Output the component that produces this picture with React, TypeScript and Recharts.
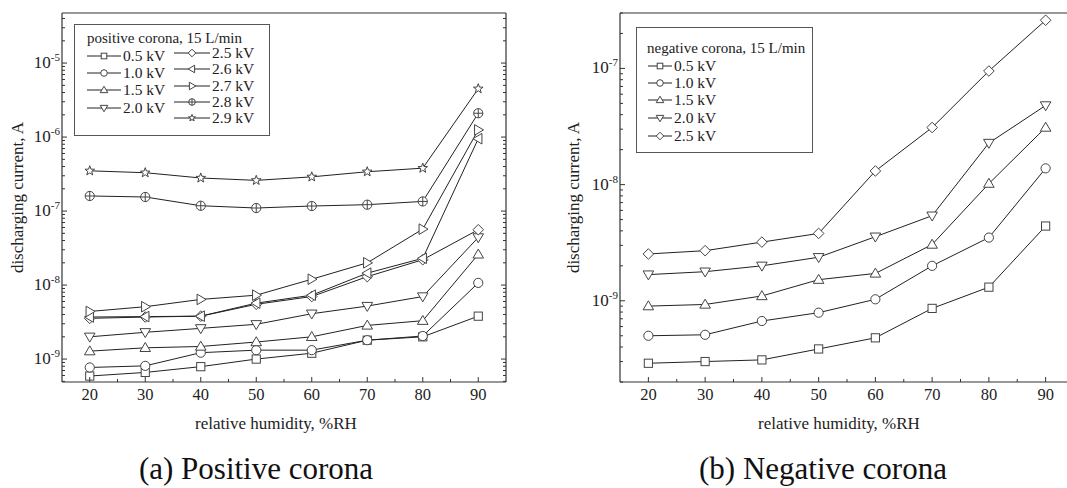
import React from 'react';
import { ComposedChart, Line, XAxis, YAxis, Legend } from 'recharts';

// relative humidity (%RH) where the currents were measured
const RH = [20, 30, 40, 50, 60, 70, 80, 90];

// x axis ticks (labelled every 10, minor every 5)
const X_TICKS = [20, 25, 30, 35, 40, 45, 50, 55, 60, 65, 70, 75, 80, 85, 90];
const X_LABELS = [20, 30, 40, 50, 60, 70, 80, 90];

// (a) positive corona, discharging current in A
const pos05 = [5.9e-10, 6.6e-10, 7.9e-10, 1.0e-9, 1.2e-9, 1.8e-9, 2.0e-9, 3.8e-9];
const pos10 = [7.7e-10, 8.1e-10, 1.22e-9, 1.32e-9, 1.32e-9, 1.8e-9, 2.05e-9, 1.07e-8];
const pos15 = [1.28e-9, 1.42e-9, 1.48e-9, 1.7e-9, 2.0e-9, 2.85e-9, 3.3e-9, 2.6e-8];
const pos20 = [2.0e-9, 2.3e-9, 2.6e-9, 2.95e-9, 4.1e-9, 5.2e-9, 7.0e-9, 4.4e-8];
const pos25 = [3.55e-9, 3.7e-9, 3.8e-9, 5.5e-9, 7.0e-9, 1.3e-8, 2.2e-8, 5.6e-8];
const pos26 = [3.7e-9, 3.75e-9, 3.8e-9, 5.7e-9, 7.3e-9, 1.45e-8, 2.3e-8, 9.5e-7];
const pos27 = [4.4e-9, 5.1e-9, 6.4e-9, 7.3e-9, 1.2e-8, 2.0e-8, 5.7e-8, 1.25e-6];
const pos28 = [1.6e-7, 1.55e-7, 1.18e-7, 1.1e-7, 1.17e-7, 1.22e-7, 1.35e-7, 2.1e-6];
const pos29 = [3.5e-7, 3.3e-7, 2.8e-7, 2.6e-7, 2.9e-7, 3.4e-7, 3.8e-7, 4.5e-6];

// (b) negative corona, discharging current in A
const neg05 = [2.9e-10, 3.0e-10, 3.1e-10, 3.85e-10, 4.8e-10, 8.6e-10, 1.31e-9, 4.4e-9];
const neg10 = [5.0e-10, 5.1e-10, 6.7e-10, 7.9e-10, 1.03e-9, 2.0e-9, 3.5e-9, 1.38e-8];
const neg15 = [9.0e-10, 9.3e-10, 1.1e-9, 1.52e-9, 1.72e-9, 3.05e-9, 1.02e-8, 3.1e-8];
const neg20 = [1.68e-9, 1.78e-9, 2.0e-9, 2.37e-9, 3.56e-9, 5.4e-9, 2.28e-8, 4.8e-8];
const neg25 = [2.53e-9, 2.7e-9, 3.2e-9, 3.8e-9, 1.31e-8, 3.1e-8, 9.5e-8, 2.6e-7];

const POS_DOMAIN = [4.9e-10, 4.75e-5];
const NEG_DOMAIN = [2.0e-10, 3.0e-7];

const POS_SERIES = [
  { key: 'p05', name: '0.5 kV', values: pos05, shape: 'square' },
  { key: 'p10', name: '1.0 kV', values: pos10, shape: 'circle' },
  { key: 'p15', name: '1.5 kV', values: pos15, shape: 'up' },
  { key: 'p20', name: '2.0 kV', values: pos20, shape: 'down' },
  { key: 'p25', name: '2.5 kV', values: pos25, shape: 'diamond' },
  { key: 'p26', name: '2.6 kV', values: pos26, shape: 'left' },
  { key: 'p27', name: '2.7 kV', values: pos27, shape: 'right' },
  { key: 'p28', name: '2.8 kV', values: pos28, shape: 'cross' },
  { key: 'p29', name: '2.9 kV', values: pos29, shape: 'star' },
];

const NEG_SERIES = [
  { key: 'n05', name: '0.5 kV', values: neg05, shape: 'square' },
  { key: 'n10', name: '1.0 kV', values: neg10, shape: 'circle' },
  { key: 'n15', name: '1.5 kV', values: neg15, shape: 'up' },
  { key: 'n20', name: '2.0 kV', values: neg20, shape: 'down' },
  { key: 'n25', name: '2.5 kV', values: neg25, shape: 'diamond' },
];

const buildRows = (series) =>
  RH.map((rh, i) => {
    const row: any = { rh };
    series.forEach((s) => { row[s.key] = s.values[i]; });
    return row;
  });

const posData = buildRows(POS_SERIES);
const negData = buildRows(NEG_SERIES);

// decade + minor ticks inside a log domain
const logTicks = (domain) => {
  const out: number[] = [];
  const lo = Math.floor(Math.log10(domain[0]));
  const hi = Math.ceil(Math.log10(domain[1]));
  for (let d = lo; d <= hi; d++) {
    for (let m = 1; m <= 9; m++) {
      const v = m * Math.pow(10, d);
      if (v >= domain[0] && v <= domain[1]) out.push(v);
    }
  }
  return out;
};

const FONT = "'Liberation Serif', 'Times New Roman', serif";
const AXIS = '#333';
const LINE = '#222';
const MARK = '#444';

function Marker({ shape, cx, cy, r = 4.6 }: any) {
  const st = { fill: '#fff', stroke: MARK, strokeWidth: 1 };
  const k = r * 1.15;
  switch (shape) {
    case 'square':
      return <rect x={cx - r + 0.5} y={cy - r + 0.5} width={2 * r - 1} height={2 * r - 1} {...st} />;
    case 'circle':
      return <circle cx={cx} cy={cy} r={r} {...st} />;
    case 'up':
      return <polygon points={`${cx},${cy - k} ${cx + k},${cy + r * 0.8} ${cx - k},${cy + r * 0.8}`} {...st} />;
    case 'down':
      return <polygon points={`${cx},${cy + k} ${cx + k},${cy - r * 0.8} ${cx - k},${cy - r * 0.8}`} {...st} />;
    case 'left':
      return <polygon points={`${cx - k},${cy} ${cx + r * 0.8},${cy - k} ${cx + r * 0.8},${cy + k}`} {...st} />;
    case 'right':
      return <polygon points={`${cx + k},${cy} ${cx - r * 0.8},${cy - k} ${cx - r * 0.8},${cy + k}`} {...st} />;
    case 'diamond':
      return <polygon points={`${cx},${cy - k} ${cx + k},${cy} ${cx},${cy + k} ${cx - k},${cy}`} {...st} />;
    case 'cross':
      return (
        <g>
          <circle cx={cx} cy={cy} r={r} {...st} />
          <line x1={cx - r} x2={cx + r} y1={cy} y2={cy} stroke={MARK} />
          <line x1={cx} x2={cx} y1={cy - r} y2={cy + r} stroke={MARK} />
        </g>
      );
    case 'star': {
      const pts: string[] = [];
      for (let i = 0; i < 10; i++) {
        const rad = i % 2 === 0 ? r * 1.1 : r * 0.45;
        const a = -Math.PI / 2 + (i * Math.PI) / 5;
        pts.push(`${cx + rad * Math.cos(a)},${cy + rad * Math.sin(a)}`);
      }
      return <polygon points={pts.join(' ')} {...st} />;
    }
    default:
      return null;
  }
}

const dotFor = (shape) => (p: any) => <Marker key={`d${p.index}`} shape={shape} cx={p.cx} cy={p.cy} />;

const isDecade = (v) => Math.abs(Math.log10(v) - Math.round(Math.log10(v))) < 1e-6;

function BottomTick({ x, y, payload }: any) {
  const v = payload.value;
  const major = X_LABELS.includes(v);
  return (
    <g>
      <line x1={x} x2={x} y1={y} y2={y - (major ? 5 : 3)} stroke={AXIS} />
      {major && (
        <text x={x} y={y + 18} textAnchor="middle" fontSize={16.5} fontFamily={FONT} fill="#222">
          {v}
        </text>
      )}
    </g>
  );
}

function TopTick({ x, y, payload }: any) {
  const major = X_LABELS.includes(payload.value);
  return <line x1={x} x2={x} y1={y} y2={y + (major ? 5 : 3)} stroke={AXIS} />;
}

function LeftTick({ x, y, payload }: any) {
  const v = payload.value;
  const major = isDecade(v);
  return (
    <g>
      <line x1={x} x2={x + (major ? 5 : 3)} y1={y} y2={y} stroke={AXIS} />
      {major && (
        <text x={x - 2} y={y + 5} textAnchor="end" fontSize={17} fontFamily={FONT} fill="#222">
          <tspan>10</tspan>
          <tspan dy={-7} fontSize={11}>{`-${Math.abs(Math.round(Math.log10(v)))}`}</tspan>
        </text>
      )}
    </g>
  );
}

function RightTick({ x, y, payload }: any) {
  const major = isDecade(payload.value);
  return <line x1={x} x2={x - (major ? 5 : 3)} y1={y} y2={y} stroke={AXIS} />;
}

function LegendBox({ title, series, rows, width, height }: any) {
  return (
    <div
      style={{
        width, height, boxSizing: 'border-box', border: '1px solid #555', background: '#fff',
        position: 'relative', fontFamily: FONT, color: '#222',
      }}
    >
      <div style={{ position: 'absolute', left: title.x, top: title.cy - 10, fontSize: 15, lineHeight: '20px', whiteSpace: 'nowrap' }}>
        {title.text}
      </div>
      {series.map((s, i) => {
        const r = rows[i];
        return (
          <div
            key={s.key}
            style={{ position: 'absolute', left: r.x, top: r.cy - 9, height: 18, display: 'flex', alignItems: 'center', whiteSpace: 'nowrap' }}
          >
            <svg width={r.w} height={18} style={{ display: 'block' }}>
              <line x1={0} x2={r.w} y1={9} y2={9} stroke={LINE} />
              <Marker shape={s.shape} cx={r.w / 2} cy={9} r={3.3} />
            </svg>
            <span style={{ marginLeft: 2, fontSize: 15.5, lineHeight: '18px' }}>{s.name}</span>
          </div>
        );
      })}
    </div>
  );
}

const POS_ROWS = [
  { x: 12, cy: 31, w: 34 }, { x: 12, cy: 48, w: 34 }, { x: 12, cy: 65, w: 34 }, { x: 12, cy: 83, w: 34 },
  { x: 99, cy: 28, w: 36 }, { x: 99, cy: 44, w: 36 }, { x: 99, cy: 61, w: 36 }, { x: 99, cy: 77, w: 36 }, { x: 99, cy: 93, w: 36 },
];
const NEG_ROWS = [
  { x: 11, cy: 38, w: 24 }, { x: 11, cy: 55, w: 24 }, { x: 11, cy: 72, w: 24 }, { x: 11, cy: 90, w: 24 }, { x: 11, cy: 108, w: 24 },
];

function Panel({ data, series, domain, width, yWidth, marginRight, yLabelDx, legend }: any) {
  const yTicks = logTicks(domain);
  return (
    <ComposedChart width={width} height={488} data={data} margin={{ top: 0, right: marginRight, bottom: 56, left: 0 }}>
      <XAxis
        dataKey="rh" type="number" domain={[15, 95]} ticks={X_TICKS} interval={0}
        tickSize={0} tickMargin={0} tickLine={false} axisLine={{ stroke: AXIS, strokeWidth: 1.2 }}
        tick={(p) => <BottomTick {...p} />} height={50}
        label={{ value: 'relative humidity, %RH', position: 'insideBottom', offset: 3, dx: -8, fontSize: 17, fontFamily: FONT, fill: '#222' }}
      />
      <XAxis
        xAxisId="top" orientation="top" type="number" domain={[15, 95]} ticks={X_TICKS} interval={0}
        tickSize={0} tickMargin={0} tickLine={false} axisLine={{ stroke: AXIS, strokeWidth: 1.2 }}
        tick={(p) => <TopTick {...p} />} height={13}
      />
      <YAxis
        scale="log" type="number" domain={domain} allowDataOverflow ticks={yTicks} interval={0}
        tickSize={0} tickMargin={0} tickLine={false} axisLine={{ stroke: AXIS, strokeWidth: 1.2 }}
        tick={(p) => <LeftTick {...p} />} width={yWidth}
        label={{ value: 'discharging current, A', angle: -90, position: 'center', dx: yLabelDx, fontSize: 17, fontFamily: FONT, fill: '#222' }}
      />
      <YAxis
        yAxisId="r" orientation="right" scale="log" type="number" domain={domain} allowDataOverflow ticks={yTicks} interval={0}
        tickSize={0} tickMargin={0} tickLine={false} axisLine={{ stroke: AXIS, strokeWidth: 1.2 }}
        tick={(p) => <RightTick {...p} />} width={14}
      />
      <Legend
        layout="vertical" align="center" verticalAlign="middle"
        wrapperStyle={{ left: legend.left, top: legend.top, width: legend.width, height: legend.height }}
        content={() => (
          <LegendBox title={legend.title} series={series} rows={legend.rows} width={legend.width} height={legend.height} />
        )}
      />
      {series.map((s) => (
        <Line
          key={s.key} dataKey={s.key} name={s.name} type="linear" stroke={LINE} strokeWidth={1}
          dot={dotFor(s.shape)} activeDot={false} isAnimationActive={false}
        />
      ))}
    </ComposedChart>
  );
}

const captionStyle: React.CSSProperties = {
  position: 'absolute', top: 451, width: 400, textAlign: 'center', fontFamily: FONT, fontSize: 31, lineHeight: '36px', color: '#111',
};

export default function App() {
  return (
    <div style={{ position: 'fixed', left: 0, top: 0, width: 1067, height: 488, overflow: 'hidden', background: '#fff' }}>
      <div style={{ position: 'absolute', left: 0, top: 0 }}>
        <Panel
          data={posData} series={POS_SERIES} domain={POS_DOMAIN} width={520} yWidth={62} marginRight={0}
          yLabelDx={-14}
          legend={{ left: 74, top: 24, width: 196, height: 112, title: { x: 12, cy: 13, text: 'positive corona, 15 L/min' }, rows: POS_ROWS }}
        />
      </div>
      <div style={{ position: 'absolute', left: 540, top: 0 }}>
        <Panel
          data={negData} series={NEG_SERIES} domain={NEG_DOMAIN} width={560} yWidth={80} marginRight={12}
          yLabelDx={-7}
          legend={{ left: 96, top: 27, width: 177, height: 126, title: { x: 10, cy: 20, text: 'negative corona, 15 L/min' }, rows: NEG_ROWS }}
        />
      </div>
      <div style={{ ...captionStyle, left: 56 }}>(a) Positive corona</div>
      <div style={{ ...captionStyle, left: 623 }}>(b) Negative corona</div>
    </div>
  );
}
